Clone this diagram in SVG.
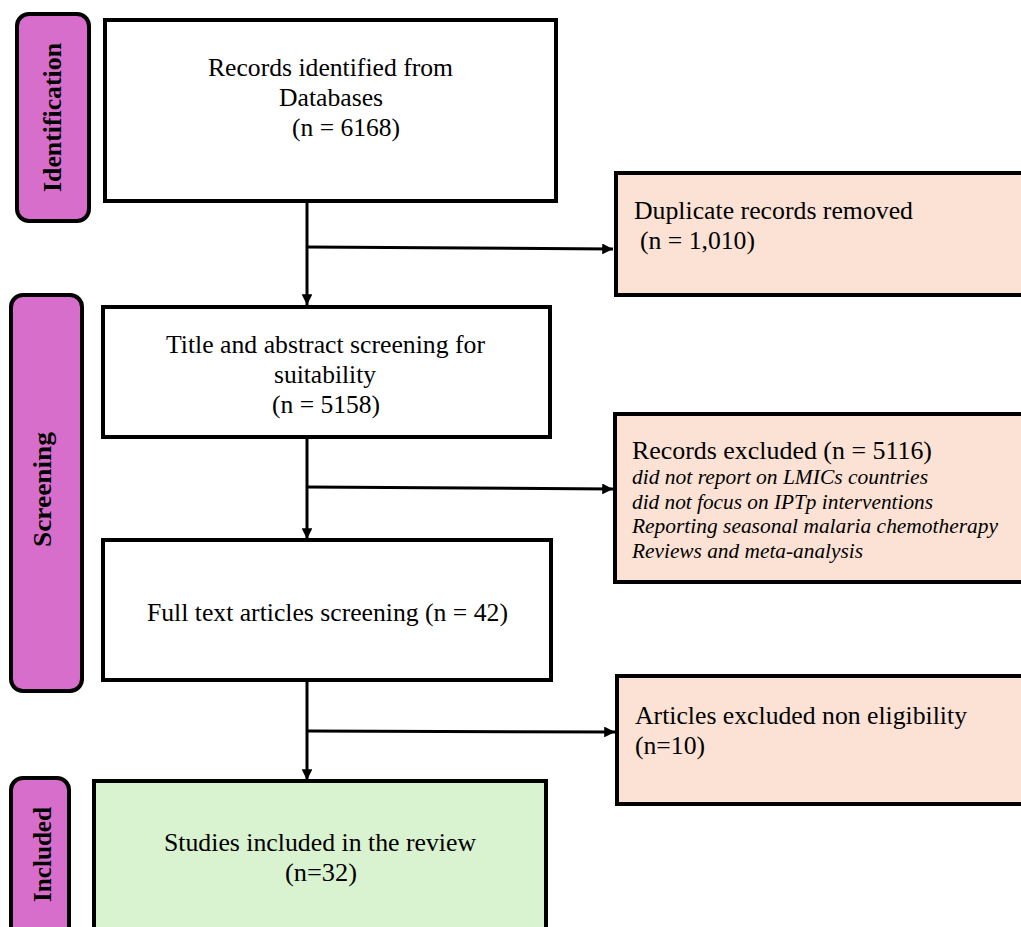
<svg xmlns="http://www.w3.org/2000/svg" width="1021" height="927" viewBox="0 0 1021 927">
  <style>
    .phase { fill: #D86ECC; stroke: #000; stroke-width: 4; }
    .box { fill: #FFFFFF; stroke: #000; stroke-width: 4; }
    .excl { fill: #FBE2D5; stroke: #000; stroke-width: 4; }
    .incl { fill: #D9F2D0; stroke: #000; stroke-width: 4; }
    .t { font-family: "Liberation Serif", "Times New Roman", serif; font-size: 25px; fill: #000; }
    .it { font-style: italic; font-size: 21.5px; }
    .ph { font-family: "Liberation Serif", "Times New Roman", serif; font-size: 26px; font-weight: bold; fill: #000; text-anchor: middle; }
    .conn { stroke: #000; stroke-width: 3; fill: none; }
  </style>
  <defs>
    <marker id="ah" viewBox="0 0 10 10" refX="10" refY="5" markerWidth="4" markerHeight="3.6" orient="auto" markerUnits="strokeWidth">
      <path d="M0,0 L10,5 L0,10 Z" fill="#000"/>
    </marker>
  </defs>

  <g id="phase-identification">
    <rect class="phase" x="17" y="14" width="72" height="207" rx="12"/>
    <text class="ph" transform="translate(61,117.5) rotate(-90)" textLength="149" lengthAdjust="spacingAndGlyphs">Identification</text>
  </g>
  <g id="phase-screening">
    <rect class="phase" x="11" y="295" width="71" height="396" rx="12"/>
    <text class="ph" transform="translate(51,489.5) rotate(-90)" textLength="115" lengthAdjust="spacingAndGlyphs">Screening</text>
  </g>
  <g id="phase-included">
    <rect class="phase" x="11" y="778" width="58" height="160" rx="12"/>
    <text class="ph" transform="translate(51,854.5) rotate(-90)" textLength="95" lengthAdjust="spacingAndGlyphs">Included</text>
  </g>

  <g id="connectors">
    <line class="conn" x1="307" y1="201" x2="307" y2="305" marker-end="url(#ah)"/>
    <line class="conn" x1="307" y1="247" x2="613" y2="249" marker-end="url(#ah)"/>
    <line class="conn" x1="307" y1="437" x2="307" y2="539" marker-end="url(#ah)"/>
    <line class="conn" x1="307" y1="487" x2="613" y2="489" marker-end="url(#ah)"/>
    <line class="conn" x1="307" y1="680" x2="307" y2="780" marker-end="url(#ah)"/>
    <line class="conn" x1="307" y1="731" x2="615" y2="732" marker-end="url(#ah)"/>
  </g>

  <g id="node-records-identified">
    <rect class="box" x="105" y="20" width="451" height="181"/>
    <text class="t" x="208" y="76" textLength="245" lengthAdjust="spacingAndGlyphs">Records identified from</text>
    <text class="t" x="279" y="106" textLength="104" lengthAdjust="spacingAndGlyphs">Databases</text>
    <text class="t" x="292" y="136" textLength="108" lengthAdjust="spacingAndGlyphs">(n = 6168)</text>
  </g>
  <g id="node-duplicates">
    <rect class="excl" x="616" y="173" width="410" height="122"/>
    <text class="t" x="634" y="219" textLength="279" lengthAdjust="spacingAndGlyphs">Duplicate records removed</text>
    <text class="t" x="640" y="249" textLength="115" lengthAdjust="spacingAndGlyphs">(n = 1,010)</text>
  </g>
  <g id="node-title-abstract">
    <rect class="box" x="103" y="307" width="447" height="130"/>
    <text class="t" x="166" y="353" textLength="319" lengthAdjust="spacingAndGlyphs">Title and abstract screening for</text>
    <text class="t" x="274" y="383" textLength="102" lengthAdjust="spacingAndGlyphs">suitability</text>
    <text class="t" x="272" y="413" textLength="108" lengthAdjust="spacingAndGlyphs">(n = 5158)</text>
  </g>
  <g id="node-records-excluded">
    <rect class="excl" x="615" y="414" width="411" height="168"/>
    <text class="t" x="632" y="459" textLength="300" lengthAdjust="spacingAndGlyphs">Records excluded (n = 5116)</text>
    <text class="t it" x="632" y="484" textLength="296" lengthAdjust="spacingAndGlyphs">did not report on LMICs countries</text>
    <text class="t it" x="632" y="509" textLength="301" lengthAdjust="spacingAndGlyphs">did not focus on IPTp interventions</text>
    <text class="t it" x="632" y="533" textLength="366" lengthAdjust="spacingAndGlyphs">Reporting seasonal malaria chemotherapy</text>
    <text class="t it" x="632" y="558" textLength="231" lengthAdjust="spacingAndGlyphs">Reviews and meta-analysis</text>
  </g>
  <g id="node-full-text">
    <rect class="box" x="103" y="540" width="448" height="140"/>
    <text class="t" x="147" y="621" textLength="361" lengthAdjust="spacingAndGlyphs">Full text articles screening (n = 42)</text>
  </g>
  <g id="node-articles-excluded">
    <rect class="excl" x="617" y="676" width="409" height="128"/>
    <text class="t" x="635" y="724" textLength="332" lengthAdjust="spacingAndGlyphs">Articles excluded non eligibility</text>
    <text class="t" x="635" y="754" textLength="70" lengthAdjust="spacingAndGlyphs">(n=10)</text>
  </g>
  <g id="node-included">
    <rect class="incl" x="94" y="781" width="452" height="160"/>
    <text class="t" x="164" y="851" textLength="312" lengthAdjust="spacingAndGlyphs">Studies included in the review</text>
    <text class="t" x="285" y="881" textLength="72" lengthAdjust="spacingAndGlyphs">(n=32)</text>
  </g>
</svg>
